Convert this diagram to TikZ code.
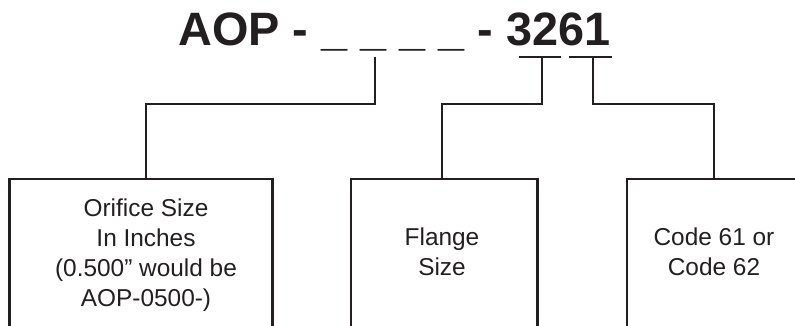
\documentclass[tikz,border=0pt]{standalone}
\usepackage{fontspec}
\setmainfont{Liberation Sans}
\usetikzlibrary{positioning}

\definecolor{ink}{RGB}{35,31,32}

\begin{document}
\begin{tikzpicture}[x=1bp,y=-1bp,line width=2.5bp,draw=ink,text=ink,
    partno/.style={font=\bfseries\fontsize{47}{56}\selectfont,inner sep=0pt,anchor=base},
    field/.style={font=\fontsize{24.5}{30}\selectfont,align=center,inner sep=0pt},
    frame/.style={minimum height=160bp,anchor=north,inner sep=0pt}]
  \clip (0,0) rectangle (795,325);
  % part number and the taps under its fields
  \node[partno] (title) at (394.5,45) {AOP - \_ \_ \_ \_ - 3261};
  \coordinate (sizetap) at (375,57);
  \coordinate (flangetap) at (542,57);
  \coordinate (codetap) at (593,57);
  \draw (519,57) -- (561,57);
  \draw (569,57) -- (612,57);
  % open boxes, cut off at the bottom
  \node[frame,minimum width=260bp] (orificebox) at (141,179) {};
  \node[frame,minimum width=184bp] (flangebox) at (444,179) {};
  \node[frame,minimum width=180bp] (codebox) at (718,179) {};
  \foreach \b in {orificebox,flangebox,codebox}
    \draw (\b.south west) -- (\b.north west) -- (\b.north east) -- (\b.south east);
  \node[field] (orifice) at (146,255.5) {Orifice Size\\In Inches\\(0.500” would be\\AOP-0500-)};
  \node[field] (flange) at (442,252) {Flange\\Size};
  \node[field] (code) at (714,252) {Code 61 or\\Code 62};
  % connectors
  \draw (sizetap) -- ++(0,47) -| (orifice |- orificebox.north);
  \draw (flangetap) -- ++(0,47) -| (flange |- flangebox.north);
  \draw (codetap) -- ++(0,47) -| (code |- codebox.north);
\end{tikzpicture}
\end{document}
